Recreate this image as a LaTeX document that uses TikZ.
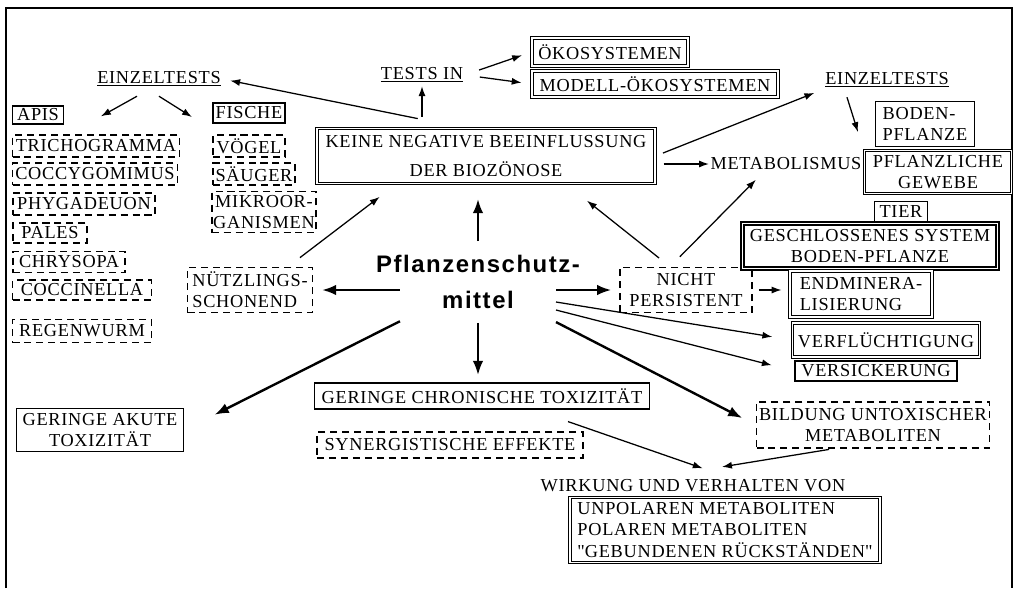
\documentclass[tikz,border=0pt]{standalone}
\usepackage{fontspec}
\usepackage{tikz}
\usetikzlibrary{arrows.meta}
\setmainfont{Liberation Serif}[LetterSpace=4]
\newfontfamily\hubfont[LetterSpace=6.5]{Liberation Sans}
\tikzset{
  lbl/.style={font=\fontsize{13}{15}\selectfont, inner sep=1pt},
  sz/.style 2 args={minimum width=#1*0.025cm, minimum height=#2*0.025cm},
  sbox/.style={lbl, rectangle, draw, line width=1.1pt, align=center},
  dashbox/.style={sbox, dash pattern=on 5pt off 3.5pt},
  dblbox/.style={lbl, rectangle, draw, line width=0.75pt, double,
    double distance=1.3pt, align=center},
  heavybox/.style={dblbox, line width=1.1pt},
  hub/.style={font=\hubfont\bfseries\fontsize{17}{25}\selectfont,
    text width=5.1cm, align=center, inner sep=0pt,
    outer xsep=-0.6cm, outer ysep=0.365cm},
  arrow/.style={-{Latex[length=7pt,width=5pt]}, line width=0.9pt},
  bigarrow/.style={-{Latex[length=10pt,width=7.5pt]}, line width=1.7pt},
  frame/.style={line width=1.6pt}
}

\begin{document}
\begin{tikzpicture}[x=0.025cm, y=-0.025cm]
  \useasboundingbox (0,0) rectangle (1019,588);
  % frame, open at the bottom
  \draw[frame] (6,588) -- (6,8) -- (1012,8) -- (1012,588);

  % single tests, left
  \node[lbl] (einzL) at (159,79) {\underline{EINZELTESTS}};
  \node[sbox, sz={51}{18}] (apis) at (38,115) {APIS};
  \node[dashbox, sz={167}{22}] (tricho) at (96,146) {TRICHOGRAMMA};
  \node[dashbox, sz={165}{22}] (coccy) at (95,174) {COCCYGOMIMUS};
  \node[dashbox, sz={142}{22}] (phyga) at (84,204) {PHYGADEUON};
  \node[dashbox, sz={74}{20}] (pales) at (50,233) {PALES};
  \node[dashbox, sz={112}{21}] (chryso) at (69,262) {CHRYSOPA};
  \node[dashbox, sz={139}{20}] (coccin) at (82,290) {COCCINELLA};
  \node[dashbox, sz={139}{23}] (regen) at (82,331) {REGENWURM};
  \node[sbox, sz={72}{20}] (fische) at (249,113) {FISCHE};
  \node[dashbox, sz={72}{22}] (voegel) at (249,146) {VÖGEL};
  \node[dashbox, sz={82}{22}] (saeuger) at (254,174) {SÄUGER};
  \node[dashbox, sz={102}{41}] (mikro) at (264,212) {MIKROOR-\\GANISMEN};
  \node[dashbox, sz={125}{45}, align=left] (nuetz) at (250,290) {NÜTZLINGS-\\SCHONEND};

  % centre
  \node[hub] (pfl) at (478,282) {Pflanzenschutz-\\mittel};

  % upper middle
  \node[dblbox, sz={338}{55}] (keine) at (486,156) {KEINE NEGATIVE BEEINFLUSSUNG\\[6pt]DER BIOZÖNOSE};
  \node[lbl] (testsin) at (422,75) {\underline{TESTS IN}};
  \node[dblbox, sz={156}{28}] (oeko) at (610,52) {ÖKOSYSTEMEN};
  \node[dblbox, sz={246}{26}] (modell) at (655,84) {MODELL-ÖKOSYSTEMEN};

  % right side
  \node[lbl] (einzR) at (887,80) {\underline{EINZELTESTS}};
  \node[sbox, sz={99}{45}, align=left] (boden) at (925,124) {BODEN-\\PFLANZE};
  \node[dblbox, sz={147}{43}] (pflgew) at (938,172) {PFLANZLICHE\\GEWEBE};
  \node[lbl] (metab) at (786,164) {METABOLISMUS};
  \node[sbox, sz={53}{21}] (tier) at (901,212) {TIER};
  \node[heavybox, sz={255}{45}] (geschl) at (870,246) {GESCHLOSSENES SYSTEM\\BODEN-PFLANZE};
  \node[dashbox, sz={132}{45}] (nicht) at (686,290) {NICHT\\PERSISTENT};
  \node[dblbox, sz={142}{46}, align=left] (endmin) at (861,294) {ENDMINERA-\\LISIERUNG};
  \node[dblbox, sz={187}{34}] (verfl) at (886,340) {VERFLÜCHTIGUNG};
  \node[sbox, sz={162}{20}] (versick) at (876,371) {VERSICKERUNG};
  \node[dashbox, sz={233}{46}] (bildung) at (873,425) {BILDUNG UNTOXISCHER\\METABOLITEN};

  % lower part
  \node[sbox, sz={335}{26}] (chron) at (482,396) {GERINGE CHRONISCHE TOXIZITÄT};
  \node[dashbox, sz={266}{26}] (syn) at (450,445) {SYNERGISTISCHE EFFEKTE};
  \node[sbox, sz={167}{43}] (akut) at (100,430) {GERINGE AKUTE\\TOXIZITÄT};
  \node[lbl] (wirkung) at (693,486) {WIRKUNG UND VERHALTEN VON};
  \node[dblbox, sz={310}{65}, align=left] (polar) at (725,530) {UNPOLAREN METABOLITEN\\POLAREN METABOLITEN\\\textquotedbl GEBUNDENEN RÜCKSTÄNDEN\textquotedbl};

  % arrows from the centre
  \draw[bigarrow, shorten >=0.375cm] (pfl.north) -- (pfl.north |- keine.south);
  \draw[bigarrow, shorten >=0.18cm] (pfl.south) -- (pfl.south |- chron.north);
  \draw[bigarrow, shorten >=0.22cm] (pfl.west |- nuetz) -- (nuetz);
  \draw[bigarrow, shorten >=0.2cm] (pfl.east |- nicht) -- (nicht);
  \draw[bigarrow, shorten >=0.85cm] (pfl) -- (akut.east);
  \draw[bigarrow, shorten >=0.38cm] (pfl) -- (bildung.west);
  \draw[arrow, shorten >=0.5cm] ([yshift=-0.5cm]pfl.east) -- (verfl.west);
  \draw[arrow, shorten >=0.58cm] ([yshift=-0.7cm]pfl.east) -- (versick.west);

  % arrows from NICHT PERSISTENT
  \draw[arrow, shorten <=0.15cm, shorten >=0.2cm] (nicht.east) -- (nicht.east -| endmin.west);
  \draw[arrow, shorten <=0.35cm, shorten >=0.67cm] ([xshift=-0.4cm]nicht.north) -- ([xshift=2cm]keine.south);
  \draw[arrow, shorten <=0.35cm, shorten >=0.28cm] ([xshift=-0.4cm]nicht.north) -- ([xshift=1.37cm]metab.south west);

  % arrow from NUETZLINGSSCHONEND
  \draw[arrow, shorten <=0.375cm, shorten >=0.53cm] ([xshift=0.95cm]nuetz.north) -- ([xshift=2cm]keine.south west);

  % arrows from KEINE NEGATIVE BEEINFLUSSUNG
  \draw[arrow, shorten <=0.28cm, shorten >=0.05cm] (keine.north -| testsin.south) -- (testsin.south);
  \draw[arrow, shorten <=1.18cm, shorten >=0.2cm] ([xshift=-0.55cm]keine.north) -- (einzL.east);
  \draw[arrow, shorten <=0.2cm] (keine.east |- metab) -- (metab);
  \draw[arrow, shorten <=0.2cm, shorten >=0.25cm] (keine.east) -- (einzR.south west);

  % tests in ecosystems
  \draw[arrow, shorten <=0.38cm, shorten >=0.25cm] (testsin.east) -- (oeko.west);
  \draw[arrow, shorten <=0.38cm, shorten >=0.25cm] (testsin.east) -- (modell.west);

  % single tests
  \draw[arrow, shorten >=1.05cm] ([xshift=-0.55cm, yshift=-0.2cm]einzL.south) -- ([yshift=-0.3cm]apis.south east);
  \draw[arrow, shorten >=0.6cm] ([yshift=-0.2cm]einzL.south) -- ([yshift=-0.15cm]fische.south west);
  \draw[arrow, shorten >=0.4cm] ([xshift=-1cm, yshift=-0.2cm]einzR.south) -- ([xshift=-0.3cm]boden.south west);

  % into WIRKUNG UND VERHALTEN
  \draw[arrow, shorten <=0.9cm, shorten >=0.75cm] ([xshift=1.3cm]chron.south) -- ([xshift=0.95cm]wirkung.north);
  \draw[arrow, shorten <=0.1cm, shorten >=1.75cm] ([xshift=-1cm]bildung.south) -- ([xshift=-1cm]wirkung.north);
\end{tikzpicture}
\end{document}
